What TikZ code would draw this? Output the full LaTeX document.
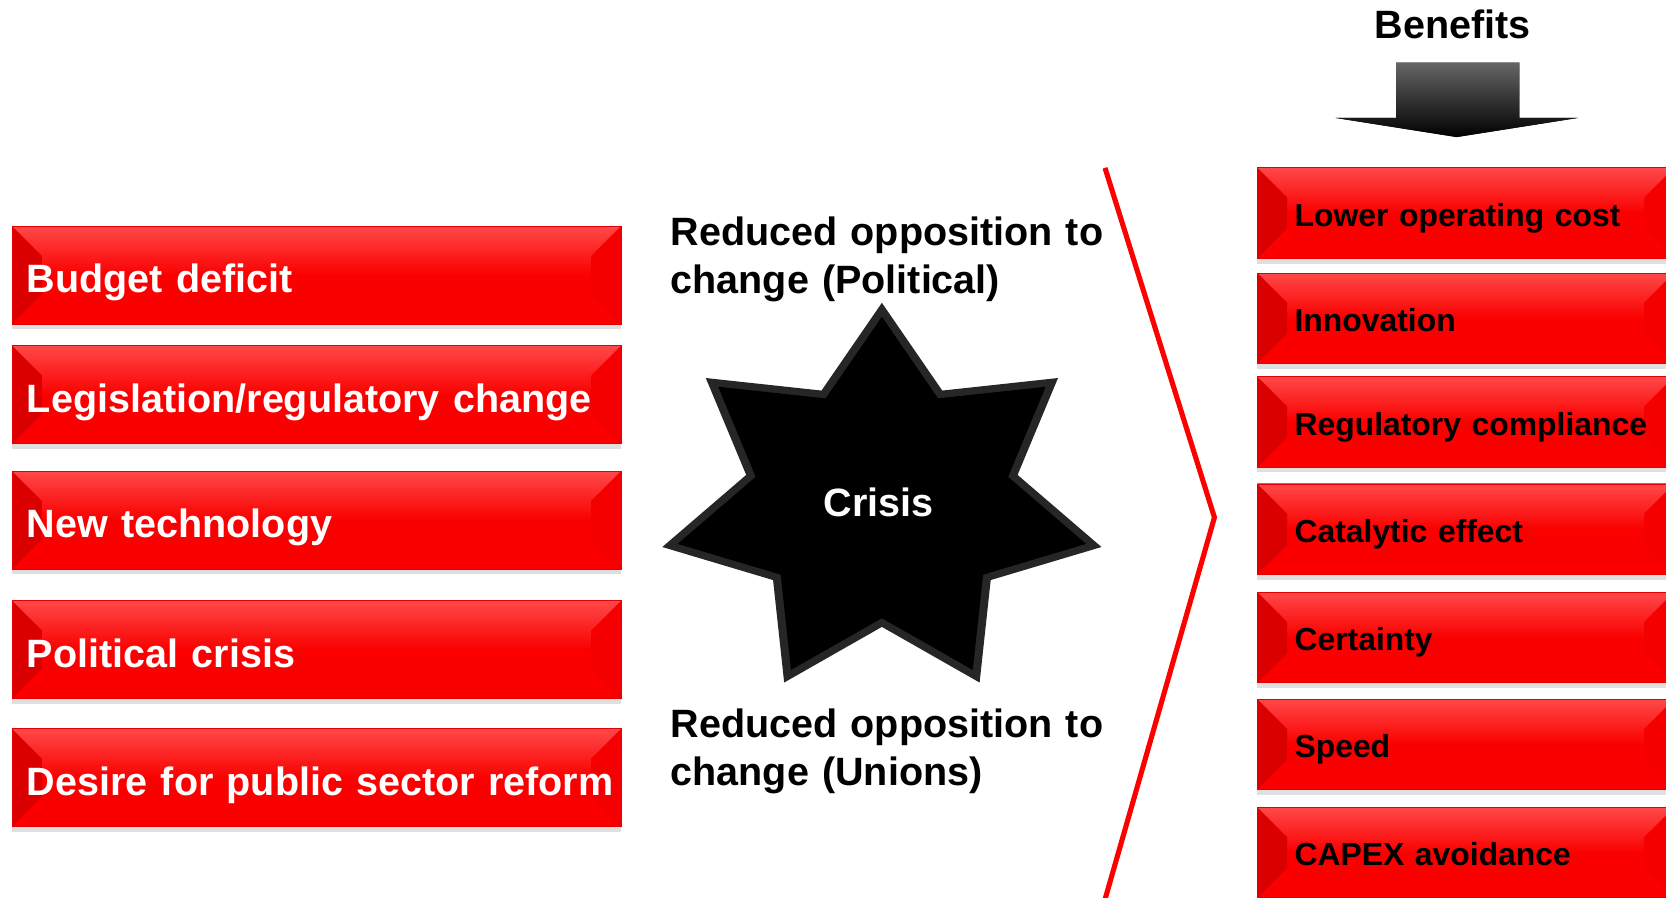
\documentclass[tikz,border=0pt]{standalone}
\usepackage{fontspec}
\setmainfont{Liberation Sans}
\usetikzlibrary{shadows}

\definecolor{boxred}{RGB}{250,0,0}
\definecolor{boxlight}{RGB}{255,72,72}
\definecolor{facetdark}{RGB}{218,0,0}
\definecolor{facetmid}{RGB}{244,0,0}
\definecolor{edgered}{RGB}{226,0,0}

\newcommand\causefont{\fontsize{37.2pt}{45pt}\selectfont\bfseries}
\newcommand\benefitfont{\fontsize{30pt}{36pt}\selectfont\bfseries}

\tikzset{
  redbox/.style={rectangle, draw=edgered, line width=0.8pt,
    top color=boxlight, bottom color=boxred, middle color=boxred,
    drop shadow={shadow xshift=0pt, shadow yshift=-5pt, opacity=0.25},
    path picture={
      \fill[facetdark] (path picture bounding box.north west) -- ++(28pt,-28pt)
        -- ([shift={(28pt,28pt)}]path picture bounding box.south west)
        -- (path picture bounding box.south west) -- cycle;
      \fill[facetmid] (path picture bounding box.north east) -- ++(-28pt,-28pt)
        -- ([shift={(-28pt,28pt)}]path picture bounding box.south east)
        -- (path picture bounding box.south east) -- cycle;
    }},
  causebox/.style={redbox, minimum width=573pt, minimum height=92pt,
    text width=545pt, inner xsep=14pt, align=left,
    text height=33pt, text depth=0pt, font=\causefont, text=white},
  benefitbox/.style={redbox, minimum width=392pt, minimum height=85pt,
    text width=322pt, inner xsep=35pt, align=left,
    text height=25pt, text depth=0pt, font=\benefitfont, text=black},
  opptext/.style={anchor=base west, inner sep=0pt, text width=440pt,
    align=left, font=\causefont},
  chevron/.style={red, line width=4.8pt}
}

\begin{document}
\begin{tikzpicture}[x=1pt,y=-1pt]

  \def\starx{830}
  \def\stary{473}

  \useasboundingbox (0,0) rectangle (1568,845);

  % causes
  \foreach \yc/\lbl [count=\i] in {259/Budget deficit, 371.5/{Legislation/regulatory change},
      489.5/New technology, 611.5/Political crisis, 732/Desire for public sector reform}
    \node[causebox, anchor=west] (cause\i) at (11,\yc) {\mbox{\lbl}};

  % crisis star
  \fill[black!85, shift={(\starx,\stary)}] (-90:212 and 188)
    \foreach \k in {1,...,7} { -- ({-90+(\k-0.5)*360/7}:131 and 117) -- ({-90+\k*360/7}:212 and 188) } -- cycle;
  \fill[black, shift={(\starx,\stary)}, scale=0.93] (-90:212 and 188)
    \foreach \k in {1,...,7} { -- ({-90+(\k-0.5)*360/7}:131 and 117) -- ({-90+\k*360/7}:212 and 188) } -- cycle;
  \node[font=\causefont, text=white, anchor=base] (crisis) at (827,486.5) {Crisis};

  \node[opptext] (political) at (631,231) {Reduced opposition to\\change (Political)};
  \node[opptext] (unions) at (631,694) {Reduced opposition to\\change (Unions)};

  % chevron
  \coordinate (ctop) at (1040,158);
  \coordinate (ctip) at (1143,487);
  \coordinate (cbot) at (1039,850);
  \draw[chevron] (ctop) -- (ctip) -- (cbot);

  % benefits
  \node[font=\causefont, anchor=base] (benefits) at (1367,36) {Benefits};
  \fill[top color=black!60, bottom color=black] (1314,59) -- (1430,59) -- (1430,111) -- (1485,111)
    -- (1371,129) -- (1257,111) -- (1314,111) -- cycle;

  \foreach \yc/\lbl [count=\i] in {200.5/Lower operating cost, 299.5/Innovation, 397/Regulatory compliance,
      498/Catalytic effect, 600/Certainty, 700.5/Speed, 802.5/CAPEX avoidance}
    \node[benefitbox, anchor=west] (benefit\i) at (1183,\yc) {\mbox{\lbl}};

\end{tikzpicture}
\end{document}
